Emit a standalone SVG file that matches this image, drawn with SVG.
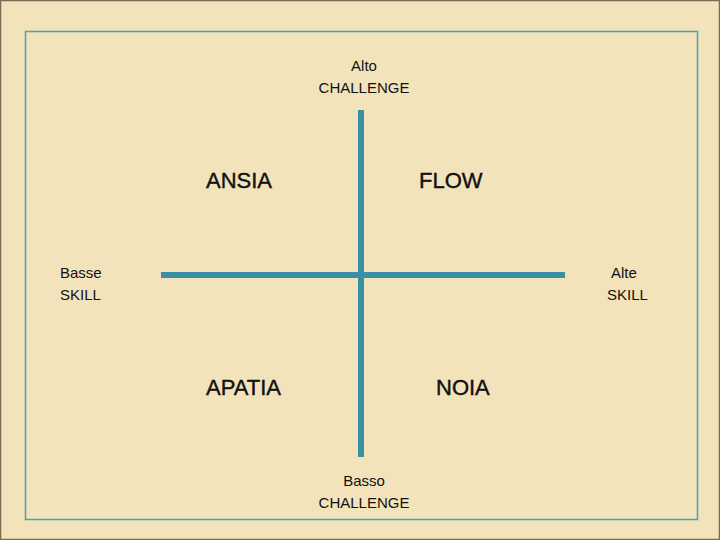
<svg xmlns="http://www.w3.org/2000/svg" width="720" height="540" viewBox="0 0 720 540">
<style>
.s{font-family:"Liberation Sans",Arial,sans-serif;font-size:15px;fill:#111}
.b{font-family:"Liberation Sans",Arial,sans-serif;font-size:22px;fill:#111;stroke:#111;stroke-width:0.4}
.ax{stroke:#3a8fa5;stroke-width:6;fill:none}
</style>
<rect x="0" y="0" width="720" height="540" fill="#f3e3bb"/>
<rect x="0.5" y="0.5" width="719" height="539" fill="none" stroke="#7a6c52" stroke-width="1.5"/>
<rect x="25.5" y="31.5" width="672" height="488" fill="none" stroke="#3fa6b4" stroke-width="1.5"/>
<g id="connectors">
<line class="ax" x1="361" y1="110" x2="361" y2="457"/>
<line class="ax" x1="161" y1="275" x2="565" y2="275"/>
</g>
<g id="alto"><text class="s" x="364" y="71" text-anchor="middle">Alto</text><text class="s" x="364" y="93" text-anchor="middle">CHALLENGE</text></g>
<g id="basso"><text class="s" x="364" y="486" text-anchor="middle">Basso</text><text class="s" x="364" y="508" text-anchor="middle">CHALLENGE</text></g>
<g id="basse"><text class="s" x="60" y="278">Basse</text><text class="s" x="60" y="300">SKILL</text></g>
<g id="alte"><text class="s" x="611" y="278">Alte</text><text class="s" x="607" y="300">SKILL</text></g>
<g id="ansia"><text class="b" x="206" y="188">ANSIA</text></g>
<g id="flow"><text class="b" x="419" y="188">FLOW</text></g>
<g id="apatia"><text class="b" x="206" y="395">APATIA</text></g>
<g id="noia"><text class="b" x="436" y="395">NOIA</text></g>
</svg>
